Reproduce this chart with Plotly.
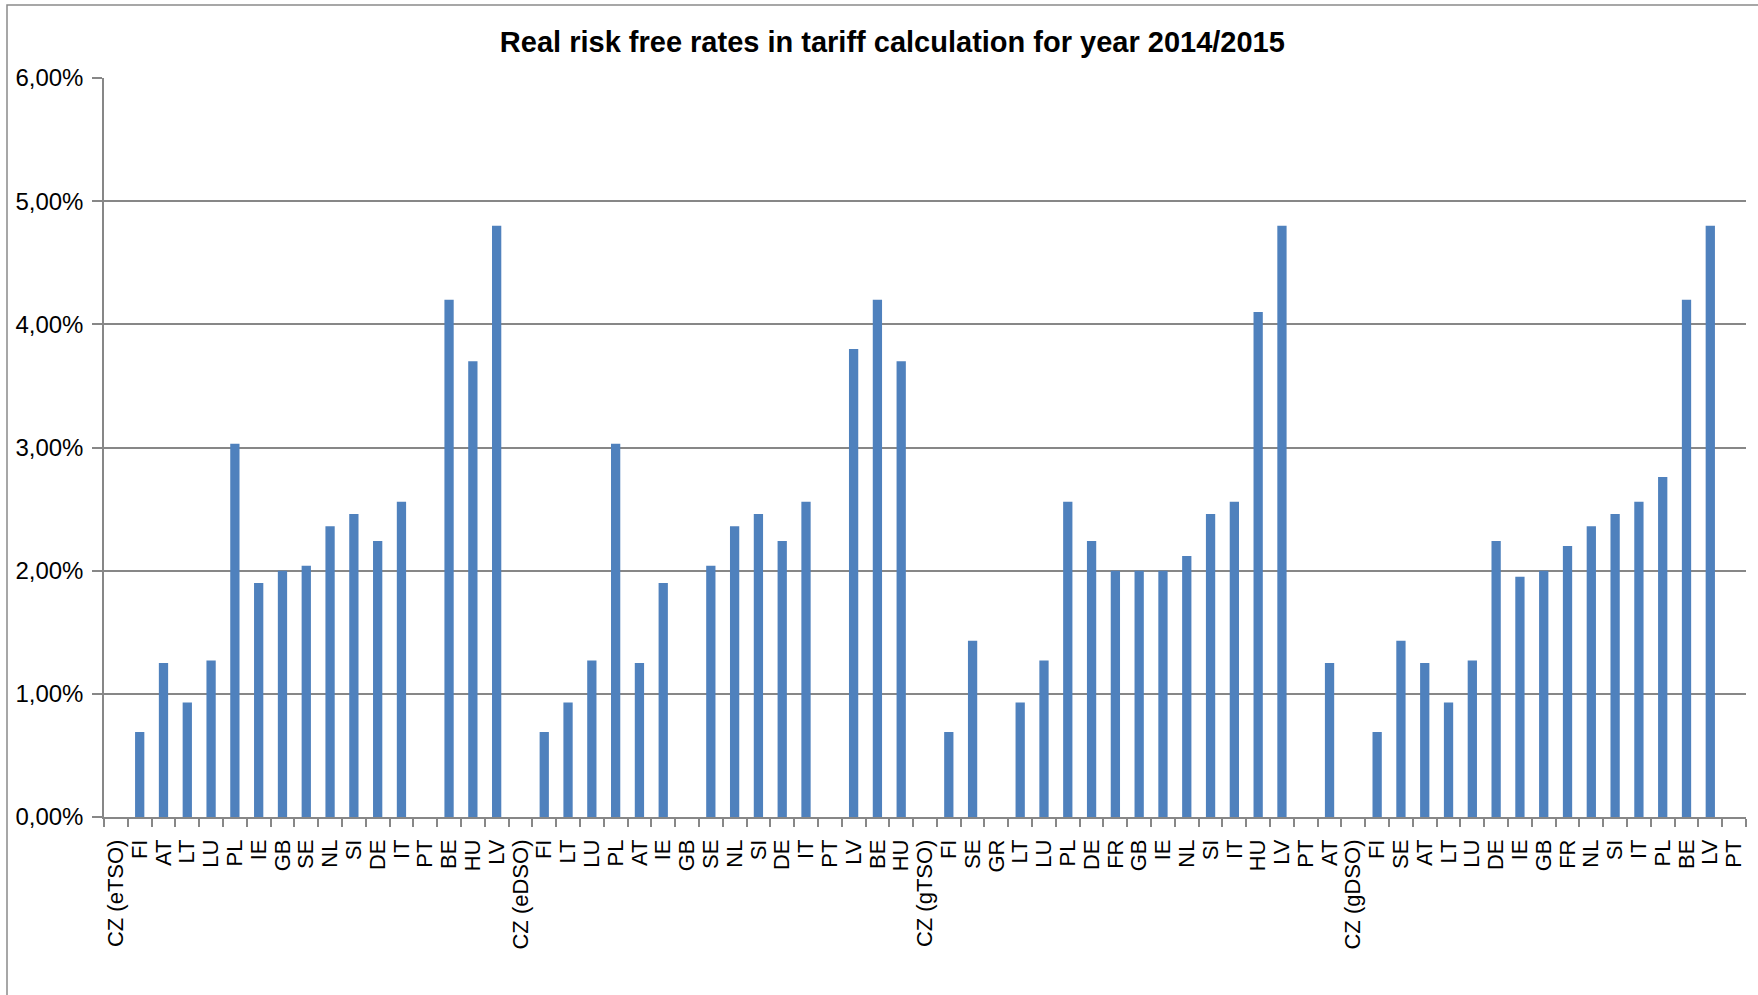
import plotly.graph_objects as go

# Group 1 (electricity TSO)
labels_etso = ["CZ (eTSO)", "FI", "AT", "LT", "LU", "PL", "IE", "GB", "SE", "NL", "SI", "DE", "IT", "PT", "BE", "HU", "LV"]
rates_etso = [0.0, 0.69, 1.25, 0.93, 1.27, 3.03, 1.90, 2.00, 2.04, 2.36, 2.46, 2.24, 2.56, 0.0, 4.20, 3.70, 4.80]

# Group 2 (electricity DSO)
labels_edso = ["CZ (eDSO)", "FI", "LT", "LU", "PL", "AT", "IE", "GB", "SE", "NL", "SI", "DE", "IT", "PT", "LV", "BE", "HU"]
rates_edso = [0.0, 0.69, 0.93, 1.27, 3.03, 1.25, 1.90, 0.0, 2.04, 2.36, 2.46, 2.24, 2.56, 0.0, 3.80, 4.20, 3.70]

# Group 3 (gas TSO)
labels_gtso = ["CZ (gTSO)", "FI", "SE", "GR", "LT", "LU", "PL", "DE", "FR", "GB", "IE", "NL", "SI", "IT", "HU", "LV", "PT", "AT"]
rates_gtso = [0.0, 0.69, 1.43, 0.0, 0.93, 1.27, 2.56, 2.24, 2.00, 2.00, 2.00, 2.12, 2.46, 2.56, 4.10, 4.80, 0.0, 1.25]

# Group 4 (gas DSO)
labels_gdso = ["CZ (gDSO)", "FI", "SE", "AT", "LT", "LU", "DE", "IE", "GB", "FR", "NL", "SI", "IT", "PL", "BE", "LV", "PT"]
rates_gdso = [0.0, 0.69, 1.43, 1.25, 0.93, 1.27, 2.24, 1.95, 2.00, 2.20, 2.36, 2.46, 2.56, 2.76, 4.20, 4.80, 0.0]

y_ticks = [0.0, 0.01, 0.02, 0.03, 0.04, 0.05, 0.06]

labels = labels_etso + labels_edso + labels_gtso + labels_gdso
rates = [r / 100.0 for r in rates_etso + rates_edso + rates_gtso + rates_gdso]
positions = list(range(len(labels)))

GRID = "#878787"
FONT = "Liberation Sans, Arial, sans-serif"

ML, MR, MT, MB = 104, 12, 78, 178
W, H = 1758, 995
PW, PH = W - ML - MR, H - MT - MB

fig = go.Figure(
    go.Bar(
        x=positions,
        y=rates,
        marker=dict(color="#4F81BD", line=dict(width=0)),
        width=0.39,
        hoverinfo="y",
    )
)

fig.update_layout(
    width=W,
    height=H,
    separators=",.",
    paper_bgcolor="white",
    plot_bgcolor="white",
    margin=dict(l=ML, r=MR, t=MT, b=MB),
    showlegend=False,
    title=dict(
        text="<b>Real risk free rates in tariff calculation for year 2014/2015</b>",
        x=0.5076,
        xanchor="center",
        y=0.958,
        yanchor="middle",
        font=dict(family=FONT, size=29, color="black"),
    ),
    shapes=[
        dict(
            type="rect",
            xref="paper",
            yref="paper",
            x0=(7 - ML) / PW,
            x1=1.2,
            y0=-0.4,
            y1=1 + (MT - 5) / PH,
            line=dict(color="#8a8a8a", width=1.5),
            fillcolor="rgba(0,0,0,0)",
            layer="below",
        )
    ],
)

fig.update_xaxes(
    range=[-0.5, len(labels) - 0.5],
    tickmode="array",
    tickvals=positions,
    ticktext=labels,
    tickangle=-90,
    ticks="",
    ticklabelstandoff=12,
    tickfont=dict(family=FONT, size=22, color="black"),
    showgrid=False,
    showline=True,
    linecolor=GRID,
    linewidth=1.5,
    zeroline=False,
    minor=dict(
        tickmode="array",
        tickvals=[p - 0.5 for p in positions] + [len(labels) - 0.5],
        ticks="outside",
        ticklen=8,
        tickcolor=GRID,
        tickwidth=1.5,
        showgrid=False,
    ),
)

fig.update_yaxes(
    range=[0, 0.06],
    tickmode="array",
    tickvals=y_ticks,
    tickformat=".2%",
    ticks="outside",
    ticklen=10,
    tickcolor=GRID,
    tickwidth=1.5,
    ticklabelstandoff=4,
    tickfont=dict(family=FONT, size=24, color="black"),
    showgrid=True,
    gridcolor=GRID,
    gridwidth=1.5,
    showline=True,
    linecolor=GRID,
    linewidth=1.5,
    zeroline=False,
)

fig.write_html(
    "out.html",
    config={"displayModeBar": False},
    post_script="document.body.style.margin='0';",
)
